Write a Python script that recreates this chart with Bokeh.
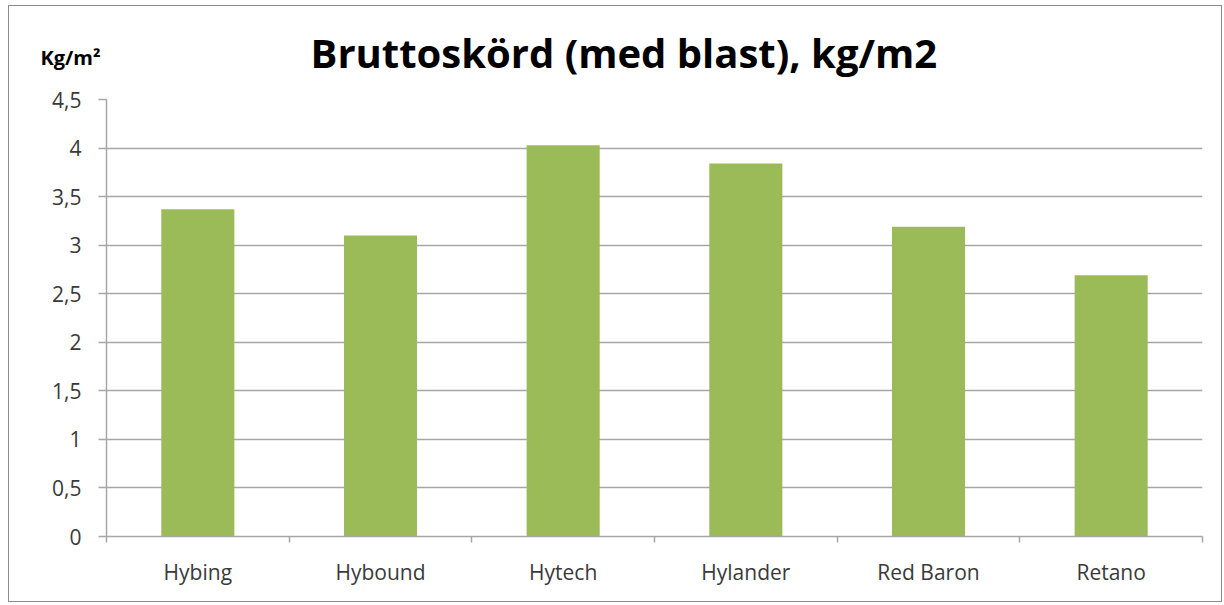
from bokeh.plotting import figure
from bokeh.models import FixedTicker, Range1d, Title, ColumnDataSource
from bokeh.embed import file_html
from bokeh.resources import INLINE

categories = ["Hybing", "Hybound", "Hytech", "Hylander", "Red Baron", "Retano"]
values = [3.37, 3.10, 4.03, 3.84, 3.19, 2.69]
y_ticks = [0, 0.5, 1, 1.5, 2, 2.5, 3, 3.5, 4, 4.5]
y_tick_labels = ["0", "0,5", "1", "1,5", "2", "2,5", "3", "3,5", "4", "4,5"]
title_text = "Bruttoskörd (med blast), kg/m2"
unit_text = "Kg/m²"

FONT = "Open Sans"
GRID = "#a6a6a6"
TXT = "#3a3a3a"

n = len(categories)
xs = [i + 0.5 for i in range(n)]
src = ColumnDataSource(dict(x=xs, top=values, cat=categories))

p = figure(width=1214, height=597, output_backend="svg", toolbar_location=None,
           x_range=Range1d(0, n), y_range=Range1d(0, 4.5),
           min_border_left=97, min_border_right=21, min_border_top=93, min_border_bottom=67)
p.margin = (5, 0, 0, 8)
p.outline_line_color = None
p.background_fill_color = "white"
p.border_fill_color = "white"
p.styles = {"border": "1px solid #8c8c8c"}

p.title.text = title_text
p.title.text_font = FONT
p.title.text_font_style = "bold"
p.title.text_font_size = "40px"
p.title.text_color = "black"
p.title.align = "left"
p.title.offset = 204
p.title.standoff = -134

unit = Title(text=unit_text, text_font=FONT, text_font_style="bold", text_font_size="20px",
             text_color="black", align="left", offset=-66, standoff=58)
p.add_layout(unit, "above")

p.vbar(x="x", top="top", width=0.4, bottom=0, source=src, fill_color="#9bbb59", line_color=None)

# x axis
p.xaxis.ticker = FixedTicker(ticks=xs, minor_ticks=list(range(n + 1)))
p.xaxis.major_label_overrides = {x: c for x, c in zip(xs, categories)}
p.xaxis.major_tick_out = 0
p.xaxis.major_tick_in = 0
p.xaxis.minor_tick_out = 6
p.xaxis.minor_tick_in = 0
p.xaxis.minor_tick_line_color = GRID
p.xaxis.minor_tick_line_width = 1.5
p.xaxis.axis_line_color = GRID
p.xaxis.axis_line_width = 1.5
p.xaxis.major_label_text_font = FONT
p.xaxis.major_label_text_font_size = "21px"
p.xaxis.major_label_text_color = TXT
p.xaxis.major_label_standoff = 15

# y axis
p.yaxis.ticker = FixedTicker(ticks=y_ticks, minor_ticks=[])
p.yaxis.major_label_overrides = {t: l for t, l in zip(y_ticks, y_tick_labels)}
p.yaxis.major_tick_out = 8
p.yaxis.major_tick_in = 0
p.yaxis.major_tick_line_color = GRID
p.yaxis.major_tick_line_width = 1.5
p.yaxis.axis_line_color = GRID
p.yaxis.axis_line_width = 1.5
p.yaxis.major_label_text_font = FONT
p.yaxis.major_label_text_font_size = "21px"
p.yaxis.major_label_text_color = TXT
p.yaxis.major_label_standoff = 17

p.xgrid.grid_line_color = None
p.ygrid.grid_line_color = GRID
p.ygrid.grid_line_width = 1.5

open("out.html", "w").write(file_html(p, INLINE))
